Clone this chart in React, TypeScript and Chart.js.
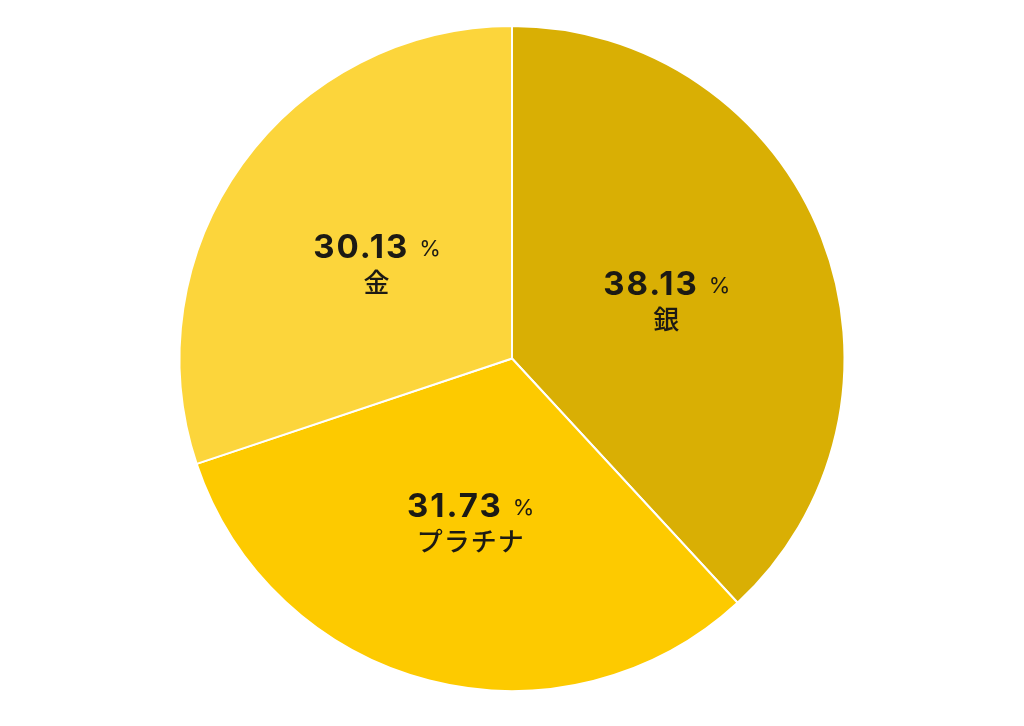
import React, { useEffect, useRef } from "react";
import Chart, { ChartConfiguration, Plugin } from "chart.js/auto";

const labels = ["銀", "プラチナ", "金"];
const shares = [38.13, 31.73, 30.13];
const colors = ["#D9AF04", "#FDCA00", "#FCD53B"];

const NUM_FONT = 'Inter, "Noto Sans", sans-serif';
const JP_FONT = '"Noto Sans CJK JP", "Noto Sans", sans-serif';

const sliceLabels: Plugin<"pie"> = {
  id: "sliceLabels",
  afterDatasetsDraw(chart) {
    const ctx = chart.ctx as any;
    const meta = chart.getDatasetMeta(0);
    ctx.save();
    ctx.fillStyle = "#1c1a14";
    ctx.textBaseline = "alphabetic";
    meta.data.forEach((arc, i) => {
      const { x, y } = arc.tooltipPosition(true);
      const num = shares[i].toFixed(2);
      const numFont = `bold 33px ${NUM_FONT}`;
      const pctFont = `22px ${NUM_FONT}`;
      ctx.font = numFont;
      ctx.letterSpacing = "2px";
      const numW = ctx.measureText(num).width;
      ctx.font = pctFont;
      ctx.letterSpacing = "0px";
      const pctW = ctx.measureText("%").width;
      const gap = 10;
      const left = x - (numW + gap + pctW) / 2;
      ctx.textAlign = "left";
      ctx.font = numFont;
      ctx.letterSpacing = "2px";
      ctx.fillText(num, left, y - 3);
      ctx.font = pctFont;
      ctx.letterSpacing = "0px";
      ctx.fillText("%", left + numW + gap, y - 5);
      ctx.textAlign = "center";
      ctx.font = `500 26px ${JP_FONT}`;
      ctx.letterSpacing = "1px";
      ctx.fillText(labels[i], x, y + 31);
    });
    ctx.restore();
  },
};

const PieChart: React.FC = () => {
  const chartRef = useRef<HTMLCanvasElement | null>(null);

  useEffect(() => {
    document.body.style.margin = "0";
    if (!chartRef.current) return;
    const ctx = chartRef.current.getContext("2d");
    if (!ctx) return;

    const config: ChartConfiguration<"pie"> = {
      type: "pie",
      data: {
        labels,
        datasets: [
          {
            data: shares,
            backgroundColor: colors,
            borderColor: "#ffffff",
            borderWidth: 2,
          },
        ],
      },
      options: {
        responsive: true,
        maintainAspectRatio: false,
        animation: false,
        layout: { padding: { top: 25, bottom: 34, left: 0, right: 0 } },
        plugins: {
          legend: { display: false },
          tooltip: { enabled: false },
        },
      },
      plugins: [sliceLabels],
    };

    const chart = new Chart(ctx, config);
    return () => {
      chart.destroy();
    };
  }, []);

  return (
    <div style={{ position: "relative", width: 1024, height: 726 }}>
      <canvas ref={chartRef} />
    </div>
  );
};

export default function App() {
  return <PieChart />;
}
